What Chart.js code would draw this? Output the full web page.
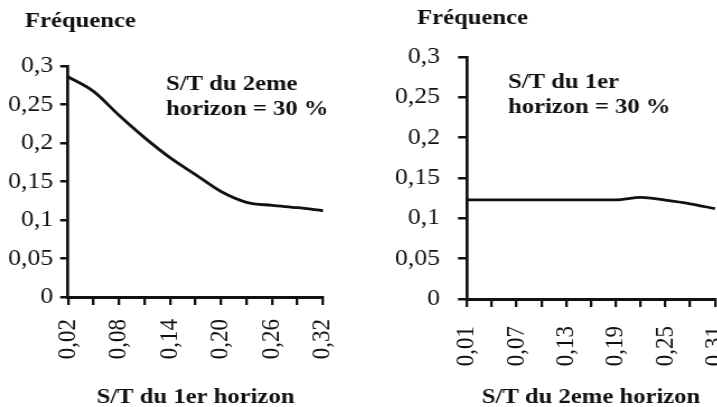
<!DOCTYPE html>
<html>
<head>
<meta charset="utf-8">
<script src="https://cdn.jsdelivr.net/npm/chart.js@4"></script>
<style>
  html, body { margin: 0; padding: 0; background: #fff; overflow: hidden; width: 717px; height: 407px; position: relative; }
  canvas { position: absolute; top: 0; transform-origin: 0 0; transform: scaleX(1.12); }
  #c1 { left: 0; }
  #c2 { left: 358px; }
</style>
</head>
<body>
<canvas id="c1" width="320" height="407"></canvas>
<canvas id="c2" width="340" height="407"></canvas>
<script>
// ---- data ----
const leftCategories = [0.02, 0.05, 0.08, 0.11, 0.14, 0.17, 0.20, 0.23, 0.26, 0.29, 0.32];
const leftValues     = [0.286, 0.267, 0.236, 0.207, 0.181, 0.159, 0.137, 0.123, 0.119, 0.116, 0.112];
const rightCategories = [0.01, 0.04, 0.07, 0.10, 0.13, 0.16, 0.19, 0.22, 0.25, 0.28, 0.31];
const rightValues     = [0.123, 0.123, 0.123, 0.123, 0.123, 0.123, 0.123, 0.126, 0.1225, 0.118, 0.112];
const yTickValues = [0, 0.05, 0.1, 0.15, 0.2, 0.25, 0.3];
const yAxisTitle = 'Fréquence';
const leftXTitle = 'S/T du 1er horizon';
const rightXTitle = 'S/T du 2eme horizon';
const leftNote = ['S/T du 2eme', 'horizon = 30 %'];
const rightNote = ['S/T du 1er', 'horizon = 30 %'];

const FAM = "'Liberation Serif', 'DejaVu Serif', serif";
const BOLD = 'bold 22px ' + FAM;
const fmtCat = v => v.toFixed(2).replace('.', ',');
const fmtY = v => String(Math.round(v * 100) / 100).replace('.', ',');

const textPlugin = {
  id: 'txt',
  afterDraw(chart, args, opts) {
    const ctx = chart.ctx;
    ctx.save();
    ctx.fillStyle = '#111';
    ctx.textBaseline = 'alphabetic';
    ctx.textAlign = 'left';
    (opts.items || []).forEach(it => {
      ctx.font = it.font;
      ctx.fillText(it.text, it.x, it.y);
    });
    ctx.restore();
  }
};

function makeChart(id, cats, vals, xTitle, note, L) {
  return new Chart(document.getElementById(id), {
    type: 'line',
    data: {
      labels: cats.map(fmtCat),
      datasets: [{
        data: vals,
        borderColor: '#111',
        borderWidth: 2.8,
        pointRadius: 0,
        fill: false,
        cubicInterpolationMode: 'monotone'
      }]
    },
    plugins: [textPlugin],
    options: {
      responsive: false,
      animation: false,
      layout: { padding: { top: L.top, left: 0, right: L.right, bottom: 0 } },
      plugins: {
        legend: { display: false },
        tooltip: { enabled: false },
        txt: {
          items: [
            { text: yAxisTitle, x: L.fx, y: L.fy, font: BOLD },
            { text: note[0], x: L.nx, y: L.ny1, font: BOLD },
            { text: note[1], x: L.nx, y: L.ny2, font: BOLD }
          ]
        }
      },
      scales: {
        x: {
          type: 'category',
          offset: false,
          afterFit: s => { s.height = L.xh; s.paddingLeft = 0; s.paddingRight = 0; },
          border: { display: true, color: '#111', width: 3 },
          grid: { drawOnChartArea: false, drawTicks: true, tickLength: 8, color: '#111', lineWidth: 2.3 },
          ticks: {
            autoSkip: false, minRotation: 90, maxRotation: 90, padding: L.xpad,
            color: '#111', font: { family: FAM, size: 23 },
            callback: function (v, i) { return i % 2 === 0 ? this.getLabelForValue(v) : ''; }
          },
          title: { display: true, text: xTitle, color: '#111', font: { family: FAM, size: 22, weight: 'bold', lineHeight: 0.85 }, padding: { top: 0, bottom: 0 } }
        },
        y: {
          min: 0, max: 0.3,
          afterFit: s => { s.width = L.yw; s.paddingTop = 0; s.paddingBottom = 0; },
          afterBuildTicks: s => { s.ticks = yTickValues.map(v => ({ value: v })); },
          border: { display: true, color: '#111', width: 2.7 },
          grid: { drawOnChartArea: false, drawTicks: true, tickLength: L.ytl, color: '#111', lineWidth: 2.5 },
          ticks: { padding: L.ypad, color: '#111', font: { family: FAM, size: 23 }, callback: v => fmtY(v) }
        }
      }
    }
  });
}

makeChart('c1', leftCategories, leftValues, leftXTitle, leftNote,
  { top: 66, right: 31.6, xh: 110, yw: 60.7, ytl: 7, xpad: 14, ypad: 6.3, fx: 22.3, fy: 27, nx: 148.2, ny1: 90, ny2: 115 });
makeChart('c2', rightCategories, rightValues, rightXTitle, rightNote,
  { top: 57, right: 21.25, xh: 108, yw: 97.3, ytl: 8, xpad: 19, ypad: 16, fx: 52.7, fy: 24, nx: 133.9, ny1: 88, ny2: 113 });
</script>
</body>
</html>
